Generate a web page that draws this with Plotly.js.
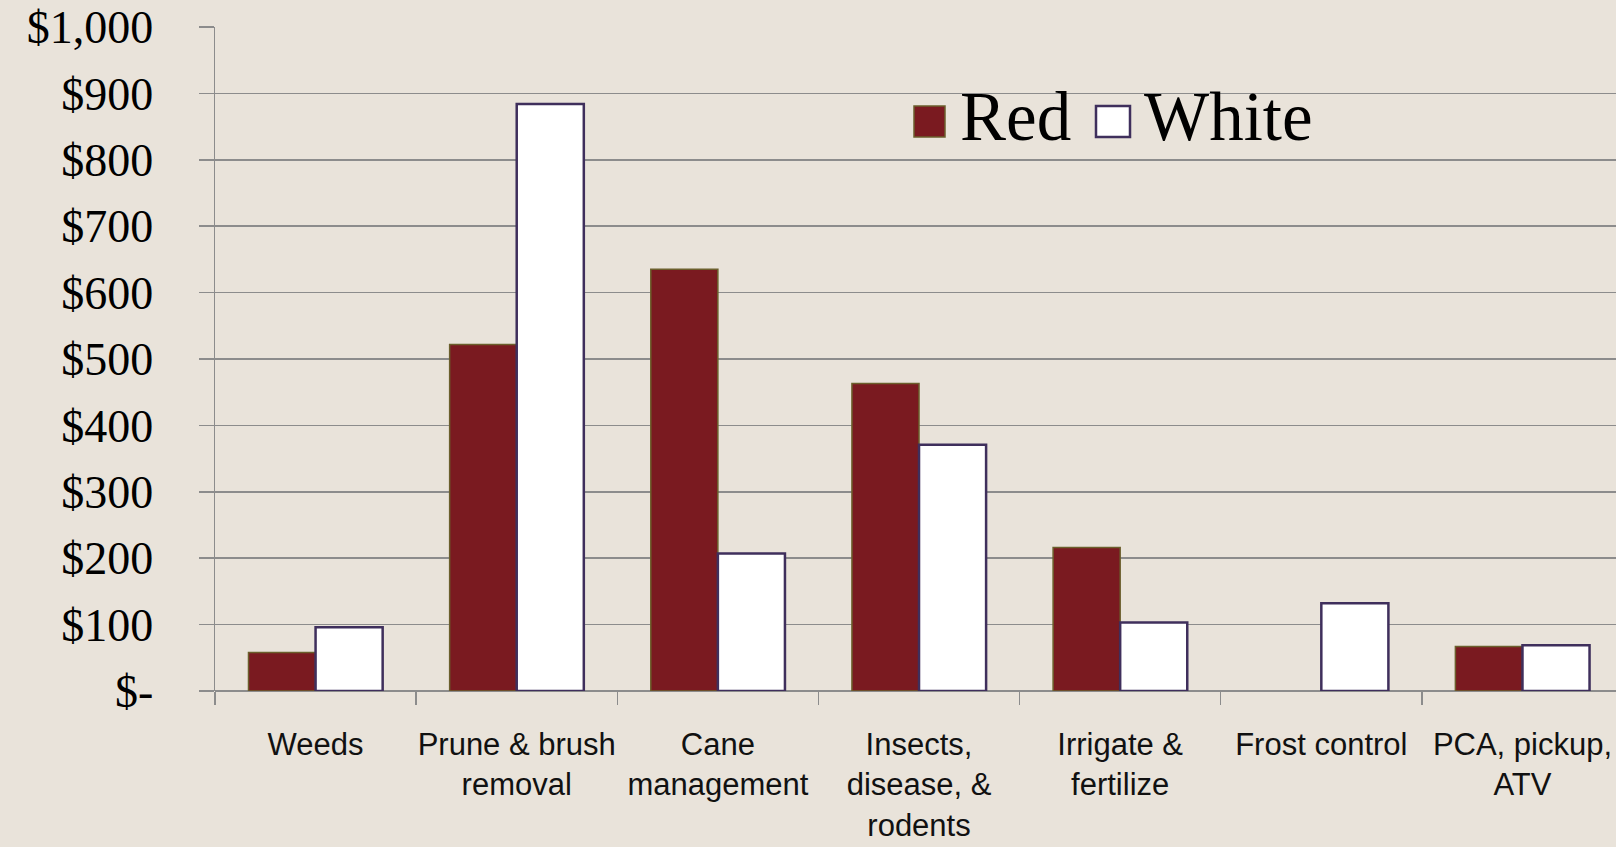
<!DOCTYPE html>
<html>
<head>
<meta charset="utf-8">
<script src="https://cdn.plot.ly/plotly-3.0.1.min.js"></script>
<style>html,body{margin:0;padding:0;background:#e9e3da;}#chart{width:1616px;height:847px;}</style>
</head>
<body>
<div id="chart"></div>
<script>
const categories = ["Weeds", "Prune & brush<br>removal", "Cane<br>management", "Insects,<br>disease, &<br>rodents", "Irrigate &<br>fertilize", "Frost control", "PCA, pickup,<br>ATV"];
const redValues = [58, 522, 635, 463, 216, null, 67];
const whiteValues = [96, 884, 207, 371, 103, 132, 69];
const yTickVals = [0, 100, 200, 300, 400, 500, 600, 700, 800, 900, 1000];
const yTickText = ["$-", "$100", "$200", "$300", "$400", "$500", "$600", "$700", "$800", "$900", "$1,000"];

const W = 1616, H = 847;
const mL = 215, mR = 0, mT = 27, mB = 156;
const pw = W - mL - mR, ph = H - mT - mB;
const px = x => (x - mL) / pw;
const py = y => (H - mB - y) / ph;

const traces = [
  {type: "bar", name: "Red", x: categories, y: redValues,
   marker: {color: "#7a1a20", line: {color: "#6b5f2c", width: 1.5}}, showlegend: false, hoverinfo: "y"},
  {type: "bar", name: "White", x: categories, y: whiteValues,
   marker: {color: "#ffffff", line: {color: "#3f2f5c", width: 2.5}}, showlegend: false, hoverinfo: "y"}
];

const layout = {
  width: W, height: H,
  margin: {l: mL, r: mR, t: mT, b: mB, pad: 0},
  paper_bgcolor: "#e9e3da", plot_bgcolor: "#e9e3da",
  barmode: "group", bargap: 0.333, bargroupgap: 0,
  showlegend: false,
  xaxis: {
    type: "category", range: [-0.5, 6.465], fixedrange: true,
    showgrid: false, zeroline: false, showline: false,
    ticks: "outside", tickson: "boundaries", ticklen: 13, tickwidth: 1.5, tickcolor: "#8c8c8c",
    tickangle: 0,
    tickfont: {family: "Liberation Sans, Arial, sans-serif", size: 31, color: "#111"},
    ticklabelstandoff: 32, automargin: false
  },
  yaxis: {
    range: [0, 1000], fixedrange: true,
    tickvals: yTickVals, ticktext: yTickText,
    showgrid: true, gridcolor: "#8c8c8c", gridwidth: 1.5,
    zeroline: true, zerolinecolor: "#8c8c8c", zerolinewidth: 1.5,
    showline: true, linecolor: "#8c8c8c", linewidth: 1.5,
    ticks: "outside", ticklen: 15, tickwidth: 1.5, tickcolor: "#8c8c8c",
    tickfont: {family: "Liberation Serif, Times New Roman, serif", size: 46, color: "#000"},
    ticklabelstandoff: 36, automargin: false
  },
  shapes: [
    {type: "rect", xref: "paper", yref: "paper", x0: px(914), x1: px(945), y0: py(106), y1: py(137),
     fillcolor: "#7a1a20", line: {color: "#6b5f2c", width: 1.5}},
    {type: "rect", xref: "paper", yref: "paper", x0: px(1096), x1: px(1130), y0: py(106), y1: py(137),
     fillcolor: "#ffffff", line: {color: "#3f2f5c", width: 2.5}}
  ],
  annotations: [
    {xref: "paper", yref: "paper", x: px(958), y: py(117), xanchor: "left", yanchor: "middle", showarrow: false,
     text: "Red", font: {family: "Liberation Serif, Times New Roman, serif", size: 69, color: "#000"}},
    {xref: "paper", yref: "paper", x: px(1142), y: py(117), xanchor: "left", yanchor: "middle", showarrow: false,
     text: "White", font: {family: "Liberation Serif, Times New Roman, serif", size: 69, color: "#000"}}
  ]
};

Plotly.newPlot("chart", traces, layout, {displayModeBar: false, staticPlot: true});
</script>
</body>
</html>
